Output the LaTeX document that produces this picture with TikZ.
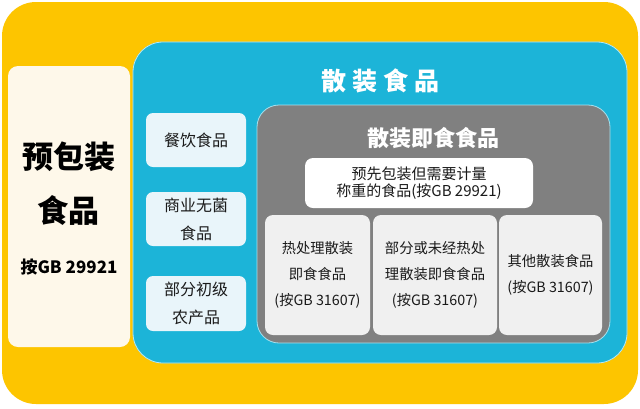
\documentclass[tikz,border=0pt]{standalone}
\usepackage{fontspec}
\setmainfont{Noto Sans CJK SC}
\definecolor{ylw}{HTML}{FDC500}
\definecolor{blu}{HTML}{1CB4D8}
\definecolor{crm}{HTML}{FEF8EA}
\definecolor{lblu}{HTML}{E9F5FA}
\definecolor{gry}{HTML}{808080}
\definecolor{lgry}{HTML}{F0F0F0}
\definecolor{txt}{HTML}{1A1A1A}
\tikzset{
  box/.style={rounded corners=#1},
  smallbox/.style={fill=lblu, rounded corners=7pt, text=txt, align=center, font=\fontsize{16}{28}\selectfont},
  subbox/.style={fill=lgry, rounded corners=8pt, text=txt, align=center, font=\fontsize{14.3}{26}\selectfont},
}
\begin{document}
\begin{tikzpicture}[x=1pt,y=-1pt]
\useasboundingbox (0,0) rectangle (640,408);
\fill[white] (0,0) rectangle (640,408);
% outer yellow
\fill[ylw, rounded corners=34pt] (2,2) rectangle (638,404);
% cream
\fill[crm, rounded corners=10pt] (8,66) rectangle (130,347);
\node[text=black, font=\fontsize{31}{54}\selectfont\bfseries, align=center] (pre) at (69,184) {预包装\\食品};
\node[text=black, font=\fontsize{17}{20}\selectfont\bfseries] (preGB) at (69,267) {按GB 29921};
% blue
\draw[blu, fill=blu, rounded corners=30pt] (133,42) rectangle (627,363);
\draw[white!70!blu, line width=0.8pt, rounded corners=30pt] (133,42) rectangle (627,363);
\node[text=white, font=\fontsize{25}{28}\selectfont\bfseries] (bulk) at (380,81) {散\hspace{6pt}装\hspace{6pt}食\hspace{6pt}品};
% small boxes
\node[smallbox, minimum width=100pt, minimum height=54pt] (cy) at (196,140) {餐饮食品};
\node[smallbox, minimum width=100pt, minimum height=54pt] (sy) at (196,219) {商业无菌\\食品};
\node[smallbox, minimum width=100pt, minimum height=55pt] (nc) at (196,303.5) {部分初级\\农产品};
% gray
\fill[gry, rounded corners=22pt] (257,105) rectangle (610,343);
\draw[white!60!blu, line width=0.8pt, rounded corners=22pt] (257,105) rectangle (610,343);
\node[text=white, font=\fontsize{22}{26}\selectfont\bfseries] (rte) at (433,138) {散装即食食品};
\node[fill=white, rounded corners=8pt, text=txt, align=center, minimum width=228pt, minimum height=50pt, font=\fontsize{15}{17}\selectfont] (pk) at (419,183) {预先包装但需要计量\\称重的食品(按GB 29921)};
\node[subbox, minimum width=105pt, minimum height=120pt] (b1) at (317.5,275) {热处理散装\\即食食品\\(按GB 31607)};
\node[subbox, minimum width=124pt, minimum height=120pt] (b2) at (435,275) {部分或未经热处\\理散装即食食品\\(按GB 31607)};
\node[subbox, minimum width=103pt, minimum height=120pt] (b3) at (550.5,275) {其他散装食品\\(按GB 31607)};
\end{tikzpicture}
\end{document}
